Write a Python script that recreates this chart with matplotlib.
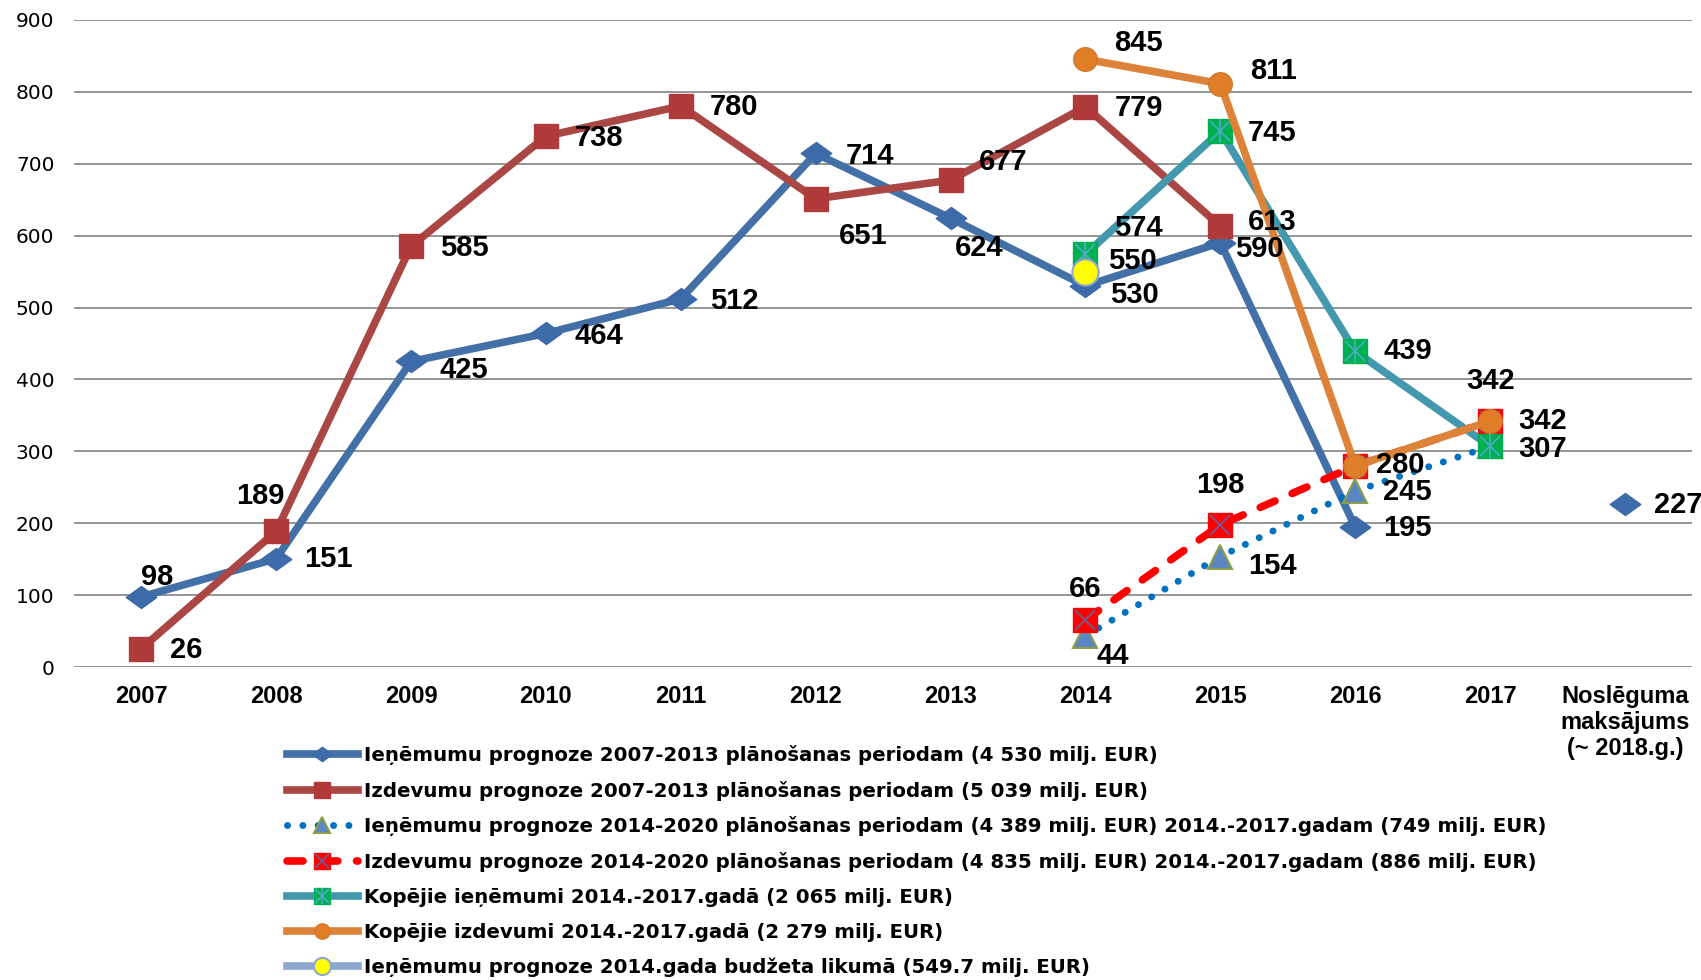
import numpy as np
import matplotlib
matplotlib.use('Agg')
import matplotlib.pyplot as plt
from matplotlib.path import Path
from matplotlib.legend_handler import HandlerTuple

plt.rcParams['font.family'] = ['Liberation Sans', 'DejaVu Sans']

nan = np.nan

# data
categories = ['2007', '2008', '2009', '2010', '2011', '2012', '2013', '2014',
              '2015', '2016', '2017', 'Noslēguma\nmaksājums\n(~ 2018.g.)']
ien_2007_2013 = [98, 151, 425, 464, 512, 714, 624, 530, 590, 195, nan, 227]
izd_2007_2013 = [26, 189, 585, 738, 780, 651, 677, 779, 613, nan, nan, nan]
ien_2014_2020 = [nan] * 7 + [44, 154, 245, 307, nan]
izd_2014_2020 = [nan] * 7 + [66, 198, 280, 342, nan]
kop_ienemumi = [nan] * 7 + [574, 745, 439, 307, nan]
kop_izdevumi = [nan] * 7 + [845, 811, 280, 342, nan]
ien_budzets = [nan] * 7 + [550, nan, nan, nan, nan]

names = [
    'Ieņēmumu prognoze 2007-2013 plānošanas periodam (4 530 milj. EUR)',
    'Izdevumu prognoze 2007-2013 plānošanas periodam (5 039 milj. EUR)',
    'Ieņēmumu prognoze 2014-2020 plānošanas periodam (4 389 milj. EUR) 2014.-2017.gadam (749 milj. EUR)',
    'Izdevumu prognoze 2014-2020 plānošanas periodam (4 835 milj. EUR) 2014.-2017.gadam (886 milj. EUR)',
    'Kopējie ieņēmumi 2014.-2017.gadā (2 065 milj. EUR)',
    'Kopējie izdevumi 2014.-2017.gadā (2 279 milj. EUR)',
    'Ieņēmumu prognoze 2014.gada budžeta likumā (549.7 milj. EUR)',
]

# label offsets (pixels, x right / y down) for the points that carry a label
offsets = [
    {0: (15, -18), 1: (48, 0), 2: (49, 8), 3: (49, 2), 4: (49, 2), 5: (50, 2),
     6: (26, 27), 7: (45, 8), 8: (36, 6), 9: (48, 1), 11: (49, 1)},
    {0: (41, 1), 1: (-15, -33), 2: (49, 2), 3: (49, 2), 4: (49, 1), 5: (44, 34),
     6: (48, -17), 7: (49, 1), 8: (48, -4)},
    {7: (25, 19), 8: (48, 9), 9: (48, 1)},
    {7: (0, -28), 8: (0, -37), 10: (0, -37)},
    {7: (49, -24), 8: (48, 2), 9: (48, 0), 10: (48, 2)},
    {7: (49, -15), 8: (49, -12), 9: (41, -1), 10: (48, 0)},
    {7: (43, -10)},
]

# flat excel-like diamond
diamond = Path([(-1, 0), (0, 0.72), (1, 0), (0, -0.72), (-1, 0)],
               [Path.MOVETO, Path.LINETO, Path.LINETO, Path.LINETO, Path.CLOSEPOLY])

fig = plt.figure(figsize=(17.01, 9.8), dpi=100)
ax = fig.add_axes([0.0434, 0.319, 0.9516, 0.661])
x = np.arange(len(categories))

handles = []

l1, = ax.plot(x, ien_2007_2013, color='#4470A8', lw=5.5, marker=diamond, ms=22,
              mfc='#3D6AA8', mec='#3D6AA8', zorder=3)
handles.append(l1)

l2, = ax.plot(x, izd_2007_2013, color='#AA4643', lw=5.5, marker='s', ms=17,
              mfc='#B0393A', mec='#B0393A', zorder=4)
handles.append(l2)

l3, = ax.plot(x, ien_2014_2020, color='#0070C0', lw=5, linestyle=(0, (0.01, 2.2)),
              dash_capstyle='round', marker='^', ms=17, mfc='#5A86C4',
              mec='#8A9F4A', mew=1.5, zorder=5)
handles.append(l3)

l4, = ax.plot(x, izd_2014_2020, color='#FF0000', lw=5.5, linestyle=(0, (2.1, 2.45)),
              dash_capstyle='round', marker='s', ms=17, mfc='#FF0000',
              mec='#FF0000', zorder=6)
l4x, = ax.plot(x, izd_2014_2020, linestyle='none', marker='x', ms=15,
               mec='#6A5FA0', mew=1.2, zorder=6.1)
handles.append((l4, l4x))

l5, = ax.plot(x, kop_ienemumi, color='#4398AE', lw=5.5, marker='s', ms=17,
              mfc='#00B050', mec='#00B050', zorder=7)
l5x, = ax.plot(x, kop_ienemumi, linestyle='none', marker='x', ms=15,
               mec='#4BACC6', mew=1.2, zorder=7.1)
l5v, = ax.plot(x, kop_ienemumi, linestyle='none', marker='|', ms=17,
               mec='#4BACC6', mew=1.2, zorder=7.1)
handles.append((l5, l5x, l5v))

l6, = ax.plot(x, kop_izdevumi, color='#DC8239', lw=5.5, marker='o', ms=17,
              mfc='#E07E28', mec='#D07A30', zorder=8)
handles.append(l6)

l7, = ax.plot(x, ien_budzets, color='#8EA7CF', lw=5.5, marker='o', ms=19,
              mfc='#FFFF00', mec='#8EA7CF', mew=1.5, zorder=9)
handles.append(l7)

# data labels
series = [ien_2007_2013, izd_2007_2013, ien_2014_2020, izd_2014_2020,
          kop_ienemumi, kop_izdevumi, ien_budzets]
k = 1.085 * 72 / 100
for vals, offs in zip(series, offsets):
    for i, (dx, dy) in offs.items():
        ax.annotate(f'{vals[i]:.0f}', (x[i], vals[i]), xytext=(dx * k, -dy * k),
                    textcoords='offset points', ha='center', va='center',
                    fontsize=21, fontweight='bold', color='black', zorder=20)

ax.set_xlim(-0.5, len(categories) - 0.5)
ax.set_ylim(0, 900)
ax.set_yticks(np.arange(0, 901, 100))
ax.set_xticks(x)
ax.set_xticklabels(categories, fontsize=17, fontweight='bold', linespacing=1.15)
for lab in ax.get_yticklabels():
    lab.set_family('DejaVu Sans')
    lab.set_fontsize(14.5)
ax.tick_params(axis='both', length=0)
ax.tick_params(axis='x', pad=13)
ax.tick_params(axis='y', pad=14)
ax.grid(axis='y', color='#8C8C8C', lw=1.3)
ax.set_axisbelow(True)
for s in ax.spines.values():
    s.set_visible(False)

fig.legend(handles, names, loc='upper left', bbox_to_anchor=(0.1687, 0.240),
           frameon=False, prop={'family': 'DejaVu Sans', 'weight': 'bold', 'size': 14.2},
           handlelength=3.6, handletextpad=0.3, labelspacing=0.8,
           markerscale=0.65, borderpad=0, borderaxespad=0,
           handler_map={tuple: HandlerTuple(ndivide=1)})

fig.savefig('out.png', dpi=100)
